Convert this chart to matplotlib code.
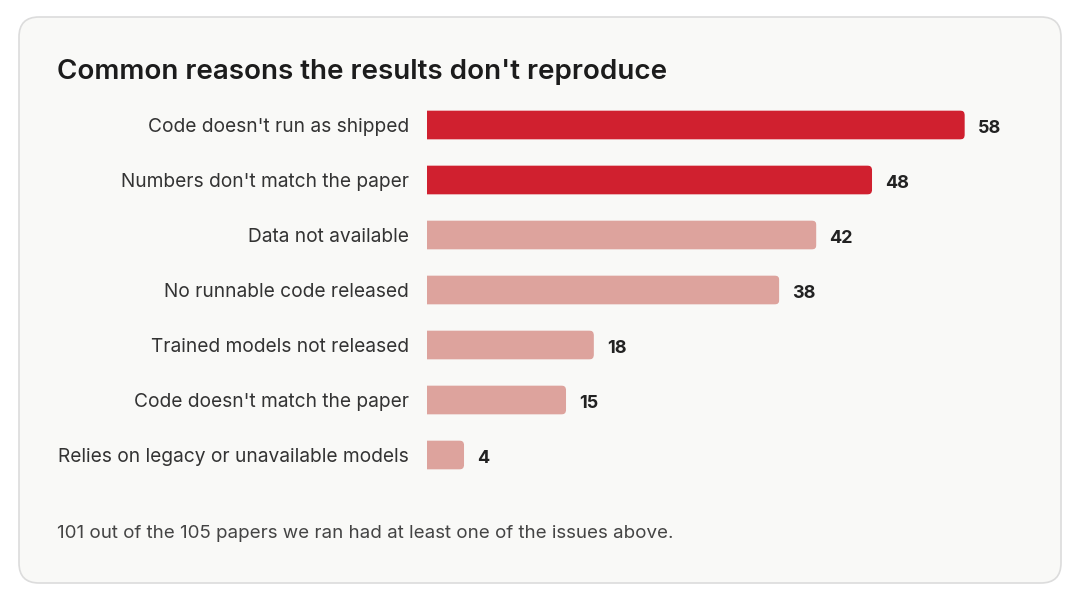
import matplotlib.pyplot as plt
from matplotlib.patches import FancyBboxPatch

categories = [
    "Code doesn't run as shipped",
    "Numbers don't match the paper",
    "Data not available",
    "No runnable code released",
    "Trained models not released",
    "Code doesn't match the paper",
    "Relies on legacy or unavailable models",
]
counts = [58, 48, 42, 38, 18, 15, 4]
highlighted = [True, True, False, False, False, False, False]

title = "Common reasons the results don't reproduce"
note = "101 out of the 105 papers we ran had at least one of the issues above."

RED = "#d0202f"
PINK = "#dda39d"
CARD = "#f9f9f7"

plt.rcParams['font.family'] = ['Inter', 'DejaVu Sans']

W, H = 1080, 603
fig = plt.figure(figsize=(W / 100, H / 100), dpi=100, facecolor="white")

# background axes in pixel units for the card and free text
bg = fig.add_axes([0, 0, 1, 1])
bg.set_xlim(0, W)
bg.set_ylim(H, 0)
bg.axis("off")
card = FancyBboxPatch((19, 17), 1042, 566, boxstyle="round,pad=0,rounding_size=20",
                      facecolor=CARD, edgecolor="#dcdcdc", linewidth=1.2)
bg.add_patch(card)
bg.text(57, 72, title, fontsize=20, fontweight="semibold", color="#1c1c1c",
        va="center", ha="left")
bg.text(57, 534, note, fontsize=13.5, color="#444444", va="center", ha="left")

# bar axes
x_left, x_max = 427, 66
ax_w = 612
top_px, bot_px = 97.5, 482.5
ax = fig.add_axes([x_left / W, 1 - bot_px / H, ax_w / W, (bot_px - top_px) / H])
ax.set_facecolor("none")
ax.set_xlim(0, x_max)
ax.set_ylim(len(categories) - 0.5, -0.5)

px_x = ax_w / x_max
px_y = (bot_px - top_px) / len(categories)
r_px = 5
r_x = r_px / px_x
aspect = (r_px / px_y) / r_x

bar_h = 0.53
colors = [RED if hl else PINK for hl in highlighted]
bars = ax.barh(range(len(counts)), counts, height=bar_h, color=colors, linewidth=0,
               snap=False)
for i, (bar, v) in enumerate(zip(bars, counts)):
    # clip each bar with a rounded box that starts left of 0: only the right end is rounded
    clip = FancyBboxPatch((-4 * r_x, i - bar_h / 2), v + 4 * r_x, bar_h,
                          boxstyle=f"round,pad=0,rounding_size={r_x}",
                          mutation_aspect=aspect, transform=ax.transData)
    bar.set_clip_path(clip)
    ax.annotate(str(v), xy=(v, i), xytext=(13, -3), textcoords="offset pixels",
                va="center", ha="left", fontsize=13, fontweight="bold", color="#222222")

ax.set_yticks(range(len(categories)))
ax.set_yticklabels(categories, fontsize=13.8, color="#333333")
ax.tick_params(axis="y", length=0, pad=13)
ax.set_xticks([])
for s in ax.spines.values():
    s.set_visible(False)

fig.savefig("out.png", dpi=100, facecolor="white")
